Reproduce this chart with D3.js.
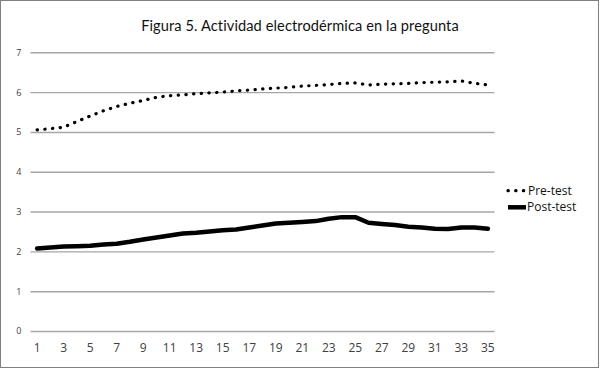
<!DOCTYPE html>
<html>
<head>
<meta charset="utf-8">
<script src="https://cdn.jsdelivr.net/npm/d3@7/dist/d3.min.js"></script>
<style>
  html, body { margin: 0; padding: 0; background: #fff; }
  svg { display: block; }
</style>
</head>
<body>
<svg id="chart" width="600" height="369"></svg>
<script>
const title = "Figura 5. Actividad electrodérmica en la pregunta";
const categories = d3.range(1, 36);
const seriesNames = ["Pre-test", "Post-test"];
const preTest = [5.05, 5.08, 5.12, 5.26, 5.40, 5.53, 5.64, 5.72, 5.79, 5.87,
                 5.91, 5.93, 5.96, 5.98, 6.00, 6.03, 6.05, 6.08, 6.10, 6.12,
                 6.15, 6.17, 6.19, 6.22, 6.23, 6.18, 6.20, 6.21, 6.22, 6.24,
                 6.25, 6.26, 6.28, 6.22, 6.18];
const postTest = [2.07, 2.10, 2.12, 2.13, 2.14, 2.17, 2.19, 2.24, 2.30, 2.35,
                  2.40, 2.45, 2.47, 2.50, 2.53, 2.55, 2.60, 2.65, 2.70, 2.72,
                  2.74, 2.76, 2.82, 2.86, 2.86, 2.72, 2.69, 2.66, 2.62, 2.60,
                  2.57, 2.56, 2.60, 2.60, 2.57];
const yTicks = [0, 1, 2, 3, 4, 5, 6, 7];
const xTickLabels = categories.filter(c => c % 2 === 1);

const svg = d3.select("#chart");

svg.append("rect")
  .attr("x", 0.5).attr("y", 0.5).attr("width", 598).attr("height", 367)
  .attr("fill", "#fff").attr("stroke", "#808080").attr("stroke-width", 1);

const plotLeft = 30.5, plotRight = 494.5, plotTop = 52.3, plotBottom = 331;
const x = d3.scaleBand().domain(categories).range([plotLeft, plotRight]);
const y = d3.scaleLinear().domain([0, 7]).range([plotBottom, plotTop]);
const cx = c => x(c) + x.bandwidth() / 2;

svg.append("text")
  .attr("x", 300).attr("y", 31)
  .attr("text-anchor", "middle")
  .attr("font-family", "Lato, 'Open Sans', sans-serif")
  .attr("font-size", 14.6)
  .attr("letter-spacing", 0.1)
  .attr("fill", "#111")
  .text(title);

// y axis with gridlines
const yAxis = svg.append("g")
  .attr("transform", `translate(${plotLeft},0)`)
  .call(d3.axisLeft(y).tickValues(yTicks).tickSize(-(plotRight - plotLeft)).tickPadding(9).tickFormat(d3.format("d")));
yAxis.select(".domain").remove();
yAxis.selectAll(".tick line").attr("stroke", "#a6a6a6").attr("stroke-width", 1.4);
yAxis.selectAll(".tick text")
  .attr("font-family", "'Open Sans', sans-serif")
  .attr("font-size", 9).attr("fill", "#404040");

// x axis
const xAxis = svg.append("g")
  .attr("transform", `translate(0,${plotBottom})`)
  .call(d3.axisBottom(x).tickValues(xTickLabels).tickSize(0).tickPadding(12));
xAxis.select(".domain").remove();
xAxis.selectAll(".tick text")
  .attr("font-family", "'Open Sans', sans-serif")
  .attr("font-size", 12).attr("fill", "#404040");

const line = d3.line().x((d, i) => cx(categories[i])).y(d => y(d));

svg.append("path")
  .datum(preTest)
  .attr("d", line)
  .attr("fill", "none")
  .attr("stroke", "#000")
  .attr("stroke-width", 3.2)
  .attr("stroke-linecap", "round")
  .attr("stroke-dasharray", "0.3 7.4");

svg.append("path")
  .datum(postTest)
  .attr("d", line)
  .attr("fill", "none")
  .attr("stroke", "#000")
  .attr("stroke-width", 4.5)
  .attr("stroke-linecap", "round")
  .attr("stroke-linejoin", "round");

// legend
const legend = svg.append("g");
const ly = [190.7, 207.3];
legend.append("line")
  .attr("x1", 508).attr("x2", 525).attr("y1", ly[0]).attr("y2", ly[0])
  .attr("stroke", "#000").attr("stroke-width", 3.2)
  .attr("stroke-linecap", "round").attr("stroke-dasharray", "0.3 7.4");
legend.append("line")
  .attr("x1", 508).attr("x2", 526).attr("y1", ly[1]).attr("y2", ly[1])
  .attr("stroke", "#000").attr("stroke-width", 4.5);
legend.selectAll("text.lg")
  .data(seriesNames)
  .join("text")
  .attr("class", "lg")
  .attr("x", (d, i) => i === 0 ? 528 : 527)
  .attr("y", (d, i) => ly[i] + 4)
  .attr("font-family", "'Open Sans', sans-serif")
  .attr("font-size", 12)
  .attr("fill", "#111")
  .text(d => d);
</script>
</body>
</html>
